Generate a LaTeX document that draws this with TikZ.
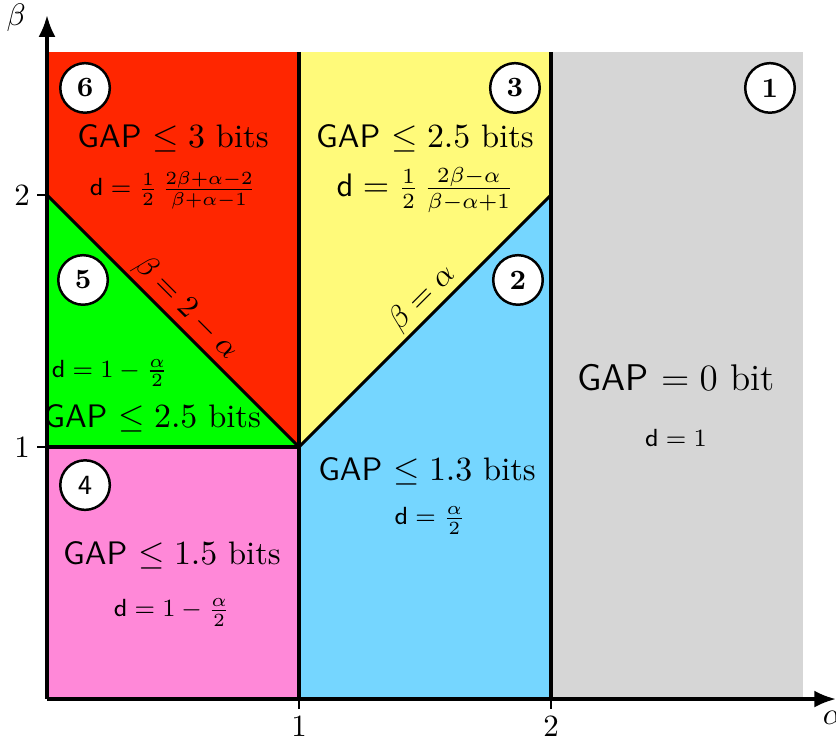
\documentclass[tikz,border=0pt]{standalone}
\usepackage{amsmath}
\usepackage{amssymb}
\usetikzlibrary{arrows.meta}
\definecolor{zonered}{RGB}{255,38,0}
\definecolor{zoneyellow}{RGB}{255,250,122}
\definecolor{zonegreen}{RGB}{0,255,0}
\definecolor{zonepink}{RGB}{255,136,216}
\definecolor{zoneblue}{RGB}{117,214,255}
\definecolor{zonegray}{RGB}{214,214,214}
\tikzset{
  bound/.style={line width=1pt, black},
  axis/.style={-{Latex[length=7pt,width=5.5pt]}, line width=1.1pt},
  tick/.style={line width=0.6pt},
  ticklbl/.style={inner sep=2pt},
  tag/.style={circle, draw, thick, fill=white, minimum size=16pt, inner sep=0pt,
    font=\small\bfseries},
  gaplbl/.style={font=\fontsize{10.5}{12}\selectfont, inner sep=1pt},
  dlbl/.style={font=\footnotesize, inner sep=1pt},
  linelbl/.style={sloped, above, inner sep=1pt, font=\normalsize},
}
\begin{document}
\begin{tikzpicture}[x=2.86cm, y=2.86cm]
  \useasboundingbox (-0.1865,-0.1548) rectangle (3.131,2.774);
  \fill[zonegray] (2,0) rectangle (3,2.567);
  \fill[zonepink] (0,0) rectangle (1,1);
  \fill[zoneblue] (1,0) -- (2,0) -- (2,2) -- (1,1) -- cycle;
  \fill[zoneyellow] (1,1) -- (2,2) -- (2,2.567) -- (1,2.567) -- cycle;
  \fill[zonered] (0,2) -- (1,1) -- (1,2.567) -- (0,2.567) -- cycle;
  \fill[zonegreen] (0,1) -- (1,1) -- (0,2) -- cycle;
  \draw[bound] (1,0) -- (1,2.567);
  \draw[bound] (2,0) -- (2,2.567);
  \draw[bound] (0,1) -- (1,1);
  \draw[bound] (0,2) -- node[linelbl, pos=0.5] (l52) {$\beta=2-\alpha$} (1,1);
  \draw[bound] (1,1) -- node[linelbl, pos=0.54] (l23) {$\beta=\alpha$} (2,2);
  \draw[axis] (0,0) -- (3.131,0) node[below, xshift=-1pt, yshift=0pt] (alab) {$\alpha$};
  \draw[axis] (0,0) -- (0,2.714) node[left, xshift=-3pt, yshift=-1pt] (blab) {$\beta$};
  \draw[tick] (0,1) -- (-0.04,1) node[left, ticklbl] (y1) {$1$};
  \draw[tick] (0,2) -- (-0.04,2) node[left, ticklbl] (y2) {$2$};
  \draw[tick] (1,0) -- (1,-0.04) node[below, ticklbl] (x1) {$1$};
  \draw[tick] (2,0) -- (2,-0.04) node[below, ticklbl] (x2) {$2$};

  \node[tag] (t1) at (2.869,2.425) {1};
  \node[tag] (t2) at (1.869,1.663) {2};
  \node[tag] (t3) at (1.857,2.425) {3};
  \node[tag, font=\small\sffamily] (t4) at (0.151,0.849) {4};
  \node[tag] (t5) at (0.143,1.663) {5};
  \node[tag] (t6) at (0.151,2.425) {6};

  \node[gaplbl] (g6) at (0.5,2.226) {\textsf{GAP} $\leq 3$ bits};
  \node[dlbl] (d6) at (0.5,2.02) {$\textsf{d}=\frac{1}{2}\,\frac{2\beta+\alpha-2}{\beta+\alpha-1}$};
  \node[gaplbl] (g3) at (1.5,2.226) {\textsf{GAP} $\leq 2.5$ bits};
  \node[gaplbl] (d3) at (1.5,2.02) {$\textsf{d}=\frac{1}{2}\,\frac{2\beta-\alpha}{\beta-\alpha+1}$};
  \node[dlbl] (d5) at (0.25,1.294) {$\textsf{d}=1-\frac{\alpha}{2}$};
  \node[gaplbl] (g5) at (0.417,1.115) {\textsf{GAP} $\leq 2.5$ bits};
  \node[gaplbl] (g2) at (1.508,0.905) {\textsf{GAP} $\leq 1.3$ bits};
  \node[dlbl] (d2) at (1.52,0.71) {$\textsf{d}=\frac{\alpha}{2}$};
  \node[gaplbl] (g4) at (0.496,0.571) {\textsf{GAP} $\leq 1.5$ bits};
  \node[dlbl] (d4) at (0.496,0.345) {$\textsf{d}=1-\frac{\alpha}{2}$};
  \node[gaplbl, font=\large] (g1) at (2.496,1.274) {\textsf{GAP} $=0$ bit};
  \node[dlbl] (d1) at (2.496,1.036) {$\textsf{d}=1$};
\end{tikzpicture}
\end{document}
